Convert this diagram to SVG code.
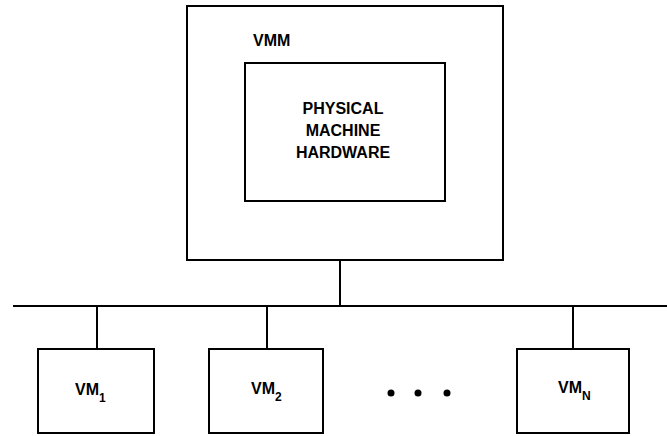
<svg xmlns="http://www.w3.org/2000/svg" width="667" height="436" viewBox="0 0 667 436">
<style>
.box{fill:#fff;stroke:#000;stroke-width:2}
.ln{stroke:#000;stroke-width:2;fill:none}
text{font-family:"Liberation Sans",Arial,sans-serif;font-size:16px;font-weight:bold;fill:#000}
.sub{font-size:12px}
</style>
<rect width="667" height="436" fill="#fff"/>
<g id="vmm">
<rect class="box" x="187" y="6" width="316" height="254"/>
<text x="253" y="46">VMM</text>
</g>
<g id="hardware">
<rect class="box" x="245" y="63" width="200" height="138"/>
<text x="343" y="114" text-anchor="middle">PHYSICAL</text>
<text x="343" y="136" text-anchor="middle">MACHINE</text>
<text x="343" y="158" text-anchor="middle">HARDWARE</text>
</g>
<g id="connectors">
<line class="ln" x1="13" y1="306" x2="667" y2="306"/>
<line class="ln" x1="340" y1="260" x2="340" y2="306"/>
<line class="ln" x1="97" y1="306" x2="97" y2="349"/>
<line class="ln" x1="267" y1="306" x2="267" y2="349"/>
<line class="ln" x1="573" y1="306" x2="573" y2="349"/>
</g>
<g id="vm1">
<rect class="box" x="38" y="349" width="116" height="84"/>
<text x="75" y="395">VM<tspan class="sub" dy="7">1</tspan></text>
</g>
<g id="vm2">
<rect class="box" x="209" y="349" width="114" height="84"/>
<text x="251" y="394">VM<tspan class="sub" dy="7">2</tspan></text>
</g>
<g id="dots">
<circle cx="391" cy="393" r="3.5"/>
<circle cx="418" cy="393" r="3.5"/>
<circle cx="447" cy="393" r="3.5"/>
</g>
<g id="vmn">
<rect class="box" x="517" y="349" width="112" height="84"/>
<text x="558" y="393">VM<tspan class="sub" dy="7">N</tspan></text>
</g>
</svg>
